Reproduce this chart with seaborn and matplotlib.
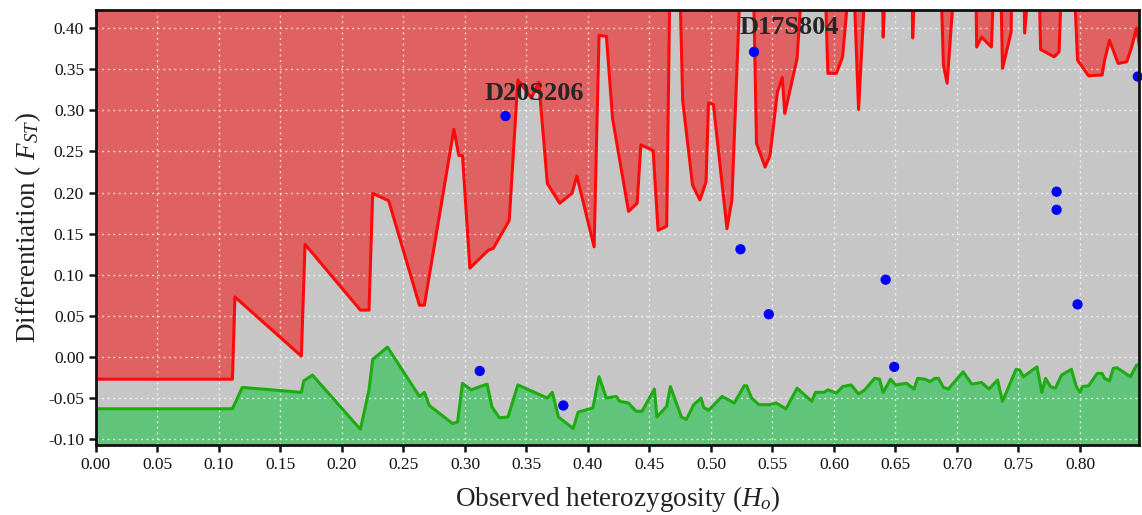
import numpy as np
import pandas as pd
import matplotlib
matplotlib.use("Agg")
import matplotlib.pyplot as plt
import seaborn as sns

# Upper (99th percentile) simulated FST bound vs. heterozygosity
TOP = 0.50
upper_h = [0.000, 0.111, 0.113, 0.167, 0.170, 0.215, 0.222, 0.225, 0.238, 0.263,
           0.267, 0.291, 0.295, 0.298, 0.304, 0.319, 0.323, 0.336, 0.343, 0.354,
           0.360, 0.367, 0.377, 0.387, 0.391, 0.405, 0.409, 0.415, 0.420, 0.433,
           0.440, 0.443, 0.453, 0.457, 0.464, 0.467, 0.474, 0.477, 0.485, 0.491,
           0.496, 0.498, 0.502, 0.513, 0.517, 0.525, 0.534, 0.537, 0.544, 0.548,
           0.554, 0.558, 0.560, 0.570, 0.576, 0.592, 0.595, 0.602, 0.607, 0.615,
           0.620, 0.627, 0.639, 0.640, 0.643, 0.663, 0.664, 0.667, 0.686, 0.689,
           0.692, 0.700, 0.715, 0.716, 0.720, 0.728, 0.731, 0.735, 0.737, 0.744,
           0.745, 0.754, 0.755, 0.761, 0.766, 0.768, 0.779, 0.783, 0.786, 0.794,
           0.798, 0.807, 0.818, 0.820, 0.824, 0.831, 0.838, 0.842, 0.846, 0.849]
upper_fst = [-0.027, -0.027, 0.073, 0.001, 0.137, 0.057, 0.057, 0.199, 0.190, 0.063,
             0.063, 0.277, 0.245, 0.245, 0.108, 0.130, 0.132, 0.166, 0.337, 0.315,
             0.334, 0.211, 0.187, 0.199, 0.220, 0.134, 0.391, 0.390, 0.290, 0.177,
             0.187, 0.258, 0.251, 0.154, 0.159, TOP, TOP, 0.312, 0.209, 0.191,
             0.213, 0.309, 0.307, 0.156, 0.191, TOP, TOP, 0.260, 0.231, 0.245,
             0.322, 0.340, 0.296, 0.363, TOP, TOP, 0.345, 0.345, 0.365, TOP,
             0.301, TOP, TOP, 0.389, TOP, TOP, 0.388, TOP, TOP, 0.355,
             0.333, TOP, TOP, 0.377, 0.389, 0.377, TOP, TOP, 0.351, 0.395,
             TOP, TOP, 0.394, TOP, TOP, 0.374, 0.365, 0.371, TOP, TOP,
             0.361, 0.342, 0.343, 0.361, 0.385, 0.357, 0.359, 0.377, 0.400, 0.371]

# Lower (1st percentile) simulated FST bound
lower_h = [0.000, 0.111, 0.119, 0.167, 0.169, 0.176, 0.215, 0.222, 0.225, 0.237,
           0.263, 0.267, 0.271, 0.290, 0.294, 0.298, 0.305, 0.318, 0.322, 0.328,
           0.335, 0.343, 0.367, 0.371, 0.376, 0.388, 0.392, 0.404, 0.409, 0.415,
           0.423, 0.426, 0.433, 0.439, 0.444, 0.454, 0.456, 0.464, 0.467, 0.476,
           0.480, 0.486, 0.492, 0.494, 0.498, 0.509, 0.519, 0.527, 0.529, 0.533,
           0.539, 0.548, 0.553, 0.561, 0.570, 0.582, 0.585, 0.592, 0.595, 0.602,
           0.607, 0.614, 0.620, 0.625, 0.633, 0.637, 0.640, 0.646, 0.650, 0.659,
           0.665, 0.668, 0.674, 0.678, 0.682, 0.685, 0.689, 0.693, 0.705, 0.712,
           0.720, 0.726, 0.733, 0.737, 0.748, 0.751, 0.754, 0.765, 0.769, 0.772,
           0.776, 0.780, 0.785, 0.793, 0.797, 0.800, 0.802, 0.807, 0.814, 0.818,
           0.820, 0.824, 0.827, 0.830, 0.841, 0.846, 0.849]
lower_fst = [-0.063, -0.063, -0.037, -0.043, -0.029, -0.022, -0.088, -0.040, -0.003, 0.012,
             -0.048, -0.043, -0.059, -0.081, -0.079, -0.032, -0.040, -0.033, -0.061, -0.074,
             -0.073, -0.034, -0.050, -0.043, -0.073, -0.087, -0.067, -0.062, -0.024, -0.050,
             -0.048, -0.054, -0.056, -0.066, -0.066, -0.039, -0.073, -0.060, -0.036, -0.073,
             -0.076, -0.058, -0.050, -0.061, -0.065, -0.048, -0.056, -0.035, -0.035, -0.050,
             -0.058, -0.058, -0.056, -0.063, -0.038, -0.054, -0.043, -0.043, -0.040, -0.044,
             -0.036, -0.034, -0.045, -0.040, -0.026, -0.027, -0.043, -0.027, -0.034, -0.032,
             -0.039, -0.026, -0.027, -0.030, -0.026, -0.026, -0.037, -0.039, -0.018, -0.033,
             -0.031, -0.039, -0.028, -0.054, -0.015, -0.016, -0.024, -0.012, -0.043, -0.026,
             -0.036, -0.038, -0.022, -0.015, -0.036, -0.043, -0.036, -0.035, -0.020, -0.020,
             -0.026, -0.029, -0.014, -0.013, -0.024, -0.010, -0.009]

# Observed loci
loci_h = [0.333, 0.535, 0.524, 0.547, 0.642, 0.649, 0.312, 0.380, 0.781, 0.781, 0.798, 0.847]
loci_fst = [0.293, 0.371, 0.131, 0.052, 0.094, -0.012, -0.017, -0.059, 0.201, 0.179, 0.064, 0.341]

# Outlier loci named on the plot
outlier_names = ["D20S206", "D17S804"]
outlier_h = [0.356, 0.564]
outlier_fst = [0.321, 0.401]

x_ticks = np.round(np.arange(0.0, 0.801, 0.05), 2)
y_ticks = np.round(np.arange(-0.10, 0.401, 0.05), 2)

sns.set_theme(style="whitegrid")
plt.rcParams["font.family"] = ["Liberation Serif", "DejaVu Serif"]
plt.rcParams["mathtext.fontset"] = "custom"
plt.rcParams["mathtext.rm"] = "Liberation Serif"
plt.rcParams["mathtext.it"] = "Liberation Serif:italic"
plt.rcParams["axes.unicode_minus"] = False

fig = plt.figure(figsize=(11.42, 5.15), dpi=100)
ax = fig.add_axes([0.084, 0.136, 0.9134, 0.8446])
ax.set_facecolor("#c6c6c6")

upper = pd.DataFrame({"h": upper_h, "fst": upper_fst})
lower = pd.DataFrame({"h": lower_h, "fst": lower_fst})
loci = pd.DataFrame({"h": loci_h, "fst": loci_fst})

ax.fill_between(upper["h"], upper["fst"], 1.0, color="#e06161", linewidth=0, zorder=0.8)
ax.fill_between(lower["h"], lower["fst"], -1.0, color="#60c47a", linewidth=0, zorder=0.8)

sns.lineplot(data=upper, x="h", y="fst", color="#ff0a0a", linewidth=2.2,
             estimator=None, sort=False, ax=ax, zorder=3)
sns.lineplot(data=lower, x="h", y="fst", color="#1eab12", linewidth=2.2,
             estimator=None, sort=False, ax=ax, zorder=3)
sns.scatterplot(data=loci, x="h", y="fst", color="#0000ff", s=55, edgecolor="none",
                ax=ax, zorder=4, clip_on=False)

for name, hx, fy in zip(outlier_names, outlier_h, outlier_fst):
    ax.text(hx, fy, name, ha="center", va="center", fontsize=19, fontweight="bold",
            color="#262626", zorder=5)

ax.grid(True, color="white", linestyle=(0, (1.5, 2.5)), linewidth=1.0, alpha=0.7, zorder=1)
ax.set_axisbelow(False)
for gl in ax.get_xgridlines() + ax.get_ygridlines():
    gl.set_zorder(1)

ax.set_xlim(0.0, 0.848)
ax.set_ylim(-0.107, 0.422)
ax.set_xticks(x_ticks)
ax.set_yticks(y_ticks)
ax.set_xticklabels([f"{v:.2f}" for v in x_ticks])
ax.set_yticklabels([f"{v:.2f}" for v in y_ticks])
ax.tick_params(axis="both", which="major", labelsize=12.5, colors="#111111",
               direction="out", length=5, width=1.8, bottom=True, left=True)

for side, sp in ax.spines.items():
    sp.set_visible(True)
    sp.set_color("#111111")
    sp.set_linewidth(2.0)
    sp.set_zorder(6)

ax.set_xlabel("Observed heterozygosity ($H_o$)", fontsize=19.5, color="#222222", labelpad=8)
ax.set_ylabel("Differentiation ( $F_{ST}$)", fontsize=19.5, color="#222222", labelpad=4)

fig.savefig("out.png", dpi=100)
